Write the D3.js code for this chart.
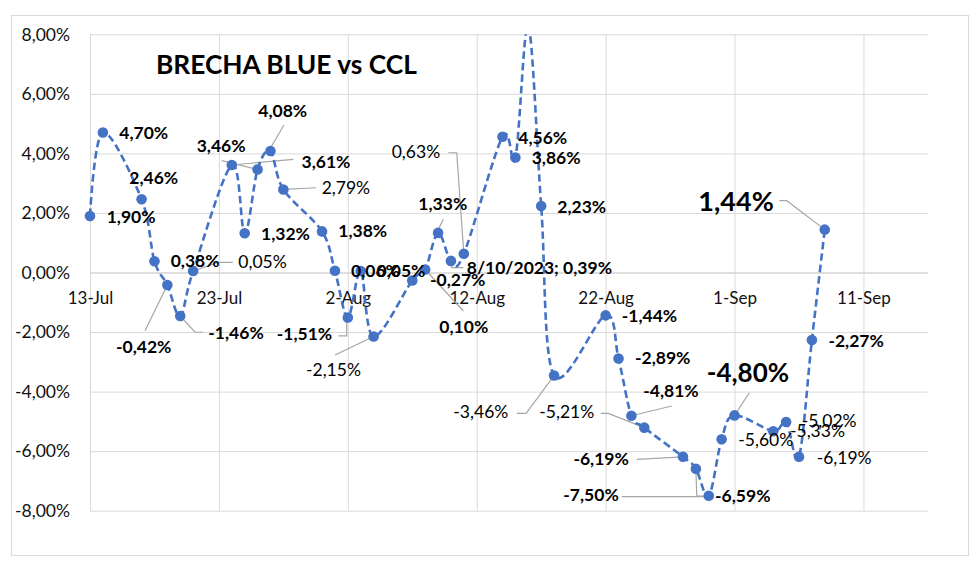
<!DOCTYPE html>
<html><head><meta charset="utf-8">
<script src="https://cdn.jsdelivr.net/npm/d3@7"></script>
<style>
body{margin:0;background:#fff}
svg{display:block}
text{font-family:Lato,"Open Sans",sans-serif}
</style>
</head><body>
<svg id="chart" width="980" height="565"></svg>
<script>
// ---------------- DATA ----------------
const chartTitle = "BRECHA BLUE vs CCL";
const dates = [
  "2023-07-13","2023-07-14","2023-07-17","2023-07-18","2023-07-19","2023-07-20","2023-07-21",
  "2023-07-24","2023-07-25","2023-07-26","2023-07-27","2023-07-28","2023-07-31",
  "2023-08-01","2023-08-02","2023-08-03","2023-08-04","2023-08-07","2023-08-08","2023-08-09",
  "2023-08-10","2023-08-11","2023-08-14","2023-08-15","2023-08-16","2023-08-17","2023-08-18",
  "2023-08-22","2023-08-23","2023-08-24","2023-08-25","2023-08-28","2023-08-29","2023-08-30",
  "2023-08-31","2023-09-01","2023-09-04","2023-09-05","2023-09-06","2023-09-07","2023-09-08"
];
const values = [
  1.90, 4.70, 2.46, 0.38, -0.42, -1.46, 0.05,
  3.61, 1.32, 3.46, 4.08, 2.79, 1.38,
  0.06, -1.51, 0.05, -2.15, -0.27, 0.10, 1.33,
  0.39, 0.63, 4.56, 3.86, 8.30, 2.23, -3.46,
  -1.44, -2.89, -4.81, -5.21, -6.19, -6.59, -7.50,
  -5.60, -4.80, -5.33, -5.02, -6.19, -2.27, 1.44
];
const yTickValues = [-8, -6, -4, -2, 0, 2, 4, 6, 8];
const xTickDates = ["2023-07-13","2023-07-23","2023-08-02","2023-08-12","2023-08-22","2023-09-01","2023-09-11"];
const xTickLabels = ["13-Jul","23-Jul","2-Aug","12-Aug","22-Aug","1-Sep","11-Sep"];
const xDomain = ["2023-07-13","2023-09-16"];
const yDomain = [-8, 8];

// ---------------- LAYOUT (label placement, relative to each point) ----------------
// [dx, dy(baseline), weight, size, leader polyline offsets, showDate]
const labelLayout = [
  [16.7, 6.8, 700, 17.5],
  [16.4, 6.7, 700, 17.5],
  [-12.3, -15.3, 700, 17.5],
  [16.2, 5.8, 700, 17.5],
  [-51.3, 67.7, 700, 17.5, [[0,0],[-22.3,45.7]]],
  [28.1, 23, 700, 17.5, [[0,0],[14.8,16.3],[23.1,16.3]]],
  [45.2, -3.3, 400, 17.5, [[0,0],[25.2,-8.7],[39.6,-8.7]]],
  [69.7, 3, 700, 17.5, [[0,0],[61.5,-5.7]]],
  [16.3, 6.8, 700, 17.5],
  [-60.9, -17.8, 700, 17.5, [[0,0],[-35.9,-8.8]]],
  [-12.2, -34.3, 700, 17.5, [[0,-3],[13.5,-26]]],
  [38.3, 4.9, 400, 17.5, [[0,0],[32.6,-1.7]]],
  [16.3, 5.9, 700, 17.5],
  [16.1, 5.8, 700, 17.5],
  [-71.1, 22.5, 700, 17.5, [[-1.1,2.5],[-1.1,18.5],[-9.5,18.5]]],
  [15.8, 5.5, 700, 17.5],
  [-67.6, 39.2, 400, 17.5, [[0,0],[-38.6,18.5]]],
  [17.7, 5.5, 700, 17.5],
  [14.2, 63.2, 700, 17.5, [[0,0],[38.2,41.5]]],
  [-19.7, -22.9, 700, 17.5, [[0,-3],[5.3,-13.6]]],
  [15.8, 13.4, 700, 17.5, [[0,0],[0.8,6.8],[12.4,6.8]], true],
  [-72.1, -95.4, 400, 17.5, [[0,0],[-7.1,-101],[-15.5,-101]]],
  [15.8, 7.3, 700, 17.5],
  [16.3, 6.4, 700, 17.5],
  null,
  [16.1, 6.6, 700, 17.5],
  [-100.7, 42.8, 400, 17.5, [[0,0],[-28,37.8],[-37.3,37.8]]],
  [16.1, 6.3, 700, 17.5],
  [16.5, 5.8, 700, 17.5],
  [11.9, -19, 700, 17.5, [[0,0],[40.3,-9.7]]],
  [-105, -9.3, 400, 17.5, [[0,0],[-36,-14.3],[-43.6,-14.3]]],
  [-109.6, 8.2, 700, 17.5, [[0,0],[-46.2,2.5]]],
  [19.2, 33, 700, 17.5, [[0,0],[0.9,27.3],[14.2,27.3]]],
  [-145.4, 4.9, 700, 17.5, [[0,0.9],[-87,0.9]]],
  [16.7, 6.8, 400, 17.5],
  [-27.8, -33.7, 700, 26, [[0,0],[14.8,-22.7]]],
  [16.8, 5.5, 400, 17.5],
  [15.6, 5.3, 400, 17.5],
  [17.7, 7.2, 400, 17.5],
  [16.5, 6.6, 700, 17.5],
  [-126.4, -18.9, 700, 27, [[0,0],[-38,-28.9],[-45.4,-28.9]]]
];

// ---------------- CHART ----------------
const svg = d3.select("#chart");
const plot = {left: 90, right: 927.9, top: 34.3, bottom: 510.7};
const parse = d3.timeParse("%Y-%m-%d");
const data = dates.map((d, i) => ({date: parse(d), value: values[i], layout: labelLayout[i]}));

const x = d3.scaleTime().domain(xDomain.map(parse)).range([plot.left, plot.right]);
const y = d3.scaleLinear().domain(yDomain).range([plot.bottom, plot.top]);

const locale = d3.formatLocale({decimal: ",", thousands: ".", grouping: [3], currency: ["$", ""], minus: "-"});
const fmt2 = locale.format(".2f");
const pct = v => fmt2(v) + "%";
const dateFmt = d3.timeFormat("%-m/%-d/%Y");

// outer border
svg.append("rect").attr("x", 11.5).attr("y", 15.5).attr("width", 957).attr("height", 540)
  .attr("fill", "#fff").attr("stroke", "#d9d9d9").attr("stroke-width", 1);

// horizontal grid + y labels
const yAxis = d3.axisLeft(y).tickValues(yTickValues).tickFormat(pct)
  .tickSize(-(plot.right - plot.left)).tickPadding(20);
const gy = svg.append("g").attr("transform", `translate(${plot.left},0)`).call(yAxis);
gy.select(".domain").remove();
gy.selectAll(".tick line").attr("stroke", "#d9d9d9").attr("stroke-width", 1);
gy.selectAll(".tick text").attr("font-size", 17.5).attr("fill", "#111").attr("dy", "0.33em")
  .style("font-family", "Lato");

// vertical grid
const xTicks = xTickDates.map(parse);
const xGrid = d3.axisBottom(x).tickValues(xTicks).tickFormat("").tickSize(-(plot.bottom - plot.top));
const gxg = svg.append("g").attr("transform", `translate(0,${plot.bottom})`).call(xGrid);
gxg.select(".domain").remove();
gxg.selectAll(".tick line").attr("stroke", "#d9d9d9").attr("stroke-width", 1);

// x axis labels at zero line
const xAxis = d3.axisBottom(x).tickValues(xTicks)
  .tickFormat((d, i) => xTickLabels[i]).tickSize(0).tickPadding(19);
const gx = svg.append("g").attr("transform", `translate(0,${y(0)})`).call(xAxis);
gx.select(".domain").attr("stroke", "#d0d0d0");
gx.selectAll(".tick text").attr("font-size", 17).attr("fill", "#111").style("font-family", "Lato");

// title
svg.append("text").attr("x", 156).attr("y", 74).attr("font-size", 26.3).attr("font-weight", 700)
  .attr("fill", "#000").text(chartTitle);

// clip
svg.append("clipPath").attr("id", "clip").append("rect")
  .attr("x", plot.left - 10).attr("y", plot.top).attr("width", plot.right - plot.left + 20)
  .attr("height", plot.bottom - plot.top);

// leader lines
const lab = data.filter(d => d.layout);
svg.append("g").selectAll("path").data(lab.filter(d => d.layout[4])).join("path")
  .attr("d", d => d3.line()(d.layout[4].map(p => [x(d.date) + p[0], y(d.value) + p[1]])))
  .attr("fill", "none").attr("stroke", "#a6a6a6").attr("stroke-width", 1.2);

// series line
const line = d3.line().x(d => x(d.date)).y(d => y(d.value)).curve(d3.curveCardinal.tension(0));
svg.append("path").datum(data).attr("clip-path", "url(#clip)")
  .attr("d", line).attr("fill", "none").attr("stroke", "#4472C4")
  .attr("stroke-width", 2.6).attr("stroke-dasharray", "7.5,4");

// markers
svg.append("g").selectAll("circle").data(data.filter(d => d.value <= yDomain[1])).join("circle")
  .attr("cx", d => x(d.date)).attr("cy", d => y(d.value)).attr("r", 5.3).attr("fill", "#4472C4");

// labels
svg.append("g").selectAll("text").data(lab).join("text")
  .attr("x", d => x(d.date) + d.layout[0]).attr("y", d => y(d.value) + d.layout[1])
  .attr("font-weight", d => d.layout[2]).attr("font-size", d => d.layout[3])
  .attr("fill", "#000")
  .text(d => (d.layout[5] ? dateFmt(d.date) + "; " : "") + pct(d.value));
</script>
</body></html>
